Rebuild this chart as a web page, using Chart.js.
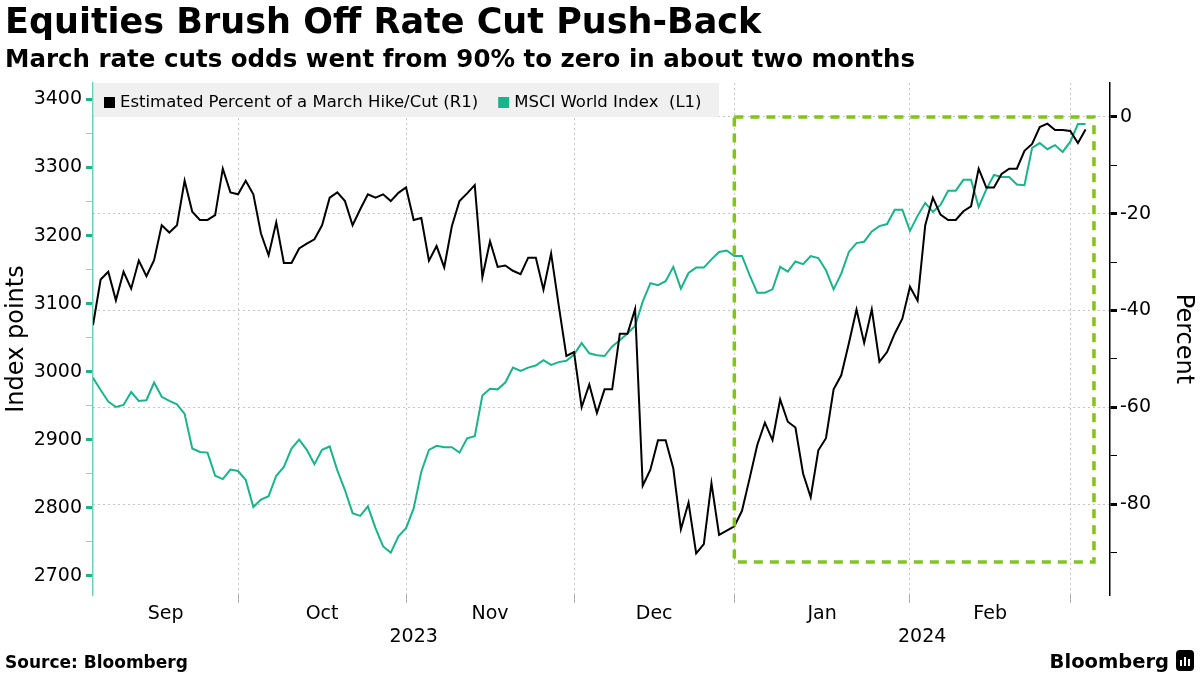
<!DOCTYPE html>
<html>
<head>
<meta charset="utf-8">
<script src="https://cdn.jsdelivr.net/npm/chart.js@4.4.1/dist/chart.umd.min.js"></script>
<style>
body{margin:0;background:#fff;font-family:"DejaVu Sans",sans-serif;}
#wrap{position:relative;width:1200px;height:675px;overflow:hidden;}
#chart{position:absolute;left:0;top:0;}
.title{position:absolute;left:5px;top:4px;font-weight:bold;font-size:35px;line-height:35px;white-space:nowrap;}
.subtitle{position:absolute;left:5px;top:47px;font-weight:bold;font-size:24.5px;line-height:24.5px;white-space:nowrap;}
.source{position:absolute;left:5px;top:654px;font-weight:bold;font-size:17px;line-height:17px;}
.brand{position:absolute;right:31px;top:652px;font-weight:bold;font-size:19.5px;line-height:19.5px;}
.logo{position:absolute;left:1176px;top:650px;width:18px;height:21px;background:#000;border-radius:4px;}
.logo i{position:absolute;bottom:5px;width:2px;background:#fff;}
</style>
</head>
<body>
<div id="wrap">
<canvas id="chart" width="1200" height="675"></canvas>
<div class="title">Equities Brush Off Rate Cut Push-Back</div>
<div class="subtitle">March rate cuts odds went from 90% to zero in about two months</div>
<div class="source">Source: Bloomberg</div>
<div class="brand">Bloomberg</div>
<div class="logo"><i style="left:4px;height:6px"></i><i style="left:8px;height:9px"></i><i style="left:12px;height:7px"></i></div>
</div>
<script>

// one value per trading day, starting Tue 5 Sep 2023
const marchOdds = [
    -43.0,-33.6,-32.0,-37.9,-32.0,-35.5,-29.7,-32.9,-29.6,-22.4,
    -23.9,-22.4,-13.2,-19.6,-21.3,-21.3,-20.3,-10.7,-15.6,-16.0,
    -13.2,-16.0,-24.1,-28.6,-21.8,-30.2,-30.2,-27.2,-26.2,-25.3,
    -22.4,-16.7,-15.6,-17.4,-22.4,-19.1,-16.0,-16.7,-16.0,-17.4,
    -15.7,-14.6,-21.3,-20.9,-29.7,-26.7,-31.1,-22.6,-17.4,-15.8,
    -14.1,-33.1,-25.7,-31.0,-30.7,-31.8,-32.5,-29.1,-29.1,-35.7,
    -28.2,-39.0,-49.4,-48.6,-60.0,-55.3,-61.2,-56.3,-56.3,-44.8,
    -44.8,-39.7,-76.2,-72.9,-66.8,-66.8,-72.6,-85.2,-79.7,-90.2,
    -88.3,-75.7,-86.4,-85.5,-84.6,-81.4,-74.7,-67.8,-63.2,-66.8,
    -58.4,-63.0,-64.2,-73.7,-78.6,-68.9,-66.4,-56.3,-53.4,-46.8,
    -39.8,-46.7,-39.8,-50.6,-48.6,-44.8,-41.7,-35.1,-38.0,-22.4,
    -16.7,-20.2,-21.3,-21.3,-19.5,-18.5,-10.7,-14.6,-14.6,-11.8,
    -10.7,-10.7,-7.0,-5.6,-2.1,-1.4,-2.7,-2.7,-2.9,-5.4,
    -2.6
];

const msciWorld = [
    2991,2973,2956,2948,2951,2970,2957,2958,2984,2963,
    2957,2952,2938,2887,2882,2881,2847,2842,2856,2854,
    2841,2801,2812,2817,2847,2860,2887,2900,2885,2864,
    2885,2890,2855,2826,2792,2788,2802,2770,2743,2734,
    2758,2770,2799,2853,2885,2891,2889,2889,2881,2902,
    2905,2965,2975,2974,2984,3006,3001,3006,3009,3017,
    3010,3014,3016,3025,3042,3027,3024,3023,3037,3046,
    3056,3067,3103,3130,3127,3133,3154,3122,3145,3153,
    3153,3165,3176,3178,3170,3170,3142,3116,3116,3121,
    3154,3147,3162,3158,3170,3167,3149,3121,3144,3176,
    3189,3191,3206,3214,3217,3238,3238,3207,3229,3248,
    3235,3245,3266,3266,3282,3282,3242,3268,3289,3286,
    3286,3275,3274,3329,3336,3327,3333,3323,3338,3364,
    3364
];

const monthNames = ["Sep","Oct","Nov","Dec","Jan","Feb"];
// trading-day index of the first day of Oct, Nov, Dec, Jan, Feb, Mar
const monthStarts = [19,41,63,84,107,128];
const axisEnd = 133.2;
const years = ["2023","2024"];
const yearStarts = [0,84];

const leftTicks = [2700,2750,2800,2850,2900,2950,3000,3050,3100,3150,3200,3250,3300,3350,3400];
const rightTicks = [0,-10,-20,-30,-40,-50,-60,-70,-80,-90];

// dashed highlight, in x index / right axis units
const highlight = {from:84, to:131.1, top:0, bottom:-92};

const FONT = "DejaVu Sans";
const GREEN = "#1bb38b";

const edges = [0, ...monthStarts, axisEnd];
const xTicks = [];
monthStarts.forEach(v=>xTicks.push({value:v, text:""}));
monthNames.forEach((m,i)=>xTicks.push({value:(edges[i]+edges[i+1])/2, text:m}));
years.forEach((y,i)=>{
    const end = i+1 < yearStarts.length ? yearStarts[i+1] : axisEnd;
    xTicks.push({value:(yearStarts[i]+end)/2, text:["",y]});
});

const isBoundary = c => c.tick && monthStarts.includes(c.tick.value);

const legendBox = {
    id:"legendBox",
    beforeDatasetsDraw(chart){
        const {ctx, chartArea} = chart;
        ctx.save();
        ctx.fillStyle = "#f0f0f0";
        ctx.fillRect(chartArea.left+1, chartArea.top, 625, 34);
        ctx.font = "16.5px '"+FONT+"'";
        ctx.textBaseline = "middle";
        let x = chartArea.left + 11;
        const y = chartArea.top + 19.5;
        chart.data.datasets.forEach(ds=>{
            ctx.fillStyle = ds.borderColor;
            ctx.fillRect(x, y-5.5, 11, 11);
            ctx.fillStyle = "#000";
            ctx.fillText(ds.label, x+16, y);
            x += 16 + ctx.measureText(ds.label).width + 20;
        });
        ctx.restore();
    }
};

const highlightBox = {
    id:"highlightBox",
    afterDatasetsDraw(chart){
        const {ctx, scales} = chart;
        const x1 = scales.x.getPixelForValue(highlight.from);
        const x2 = scales.x.getPixelForValue(highlight.to);
        const y1 = scales.yR.getPixelForValue(highlight.top);
        const y2 = scales.yR.getPixelForValue(highlight.bottom);
        ctx.save();
        ctx.strokeStyle = "#80c41c";
        ctx.lineWidth = 3.5;
        ctx.setLineDash([9,7]);
        ctx.strokeRect(x1, y1, x2-x1, y2-y1);
        ctx.restore();
    }
};

const chart = new Chart(document.getElementById("chart").getContext("2d"),{

    type:"line",

    data:{
        datasets:[
            {
                label:"Estimated Percent of a March Hike/Cut (R1)",
                data:marchOdds.map((v,i)=>({x:i,y:v})),
                yAxisID:"yR",
                borderColor:"#000000",
                borderWidth:2,
                pointRadius:0,
                tension:0
            },
            {
                label:"MSCI World Index  (L1)",
                data:msciWorld.map((v,i)=>({x:i,y:v})),
                yAxisID:"yL",
                borderColor:GREEN,
                borderWidth:2,
                pointRadius:0,
                tension:0
            }
        ]
    },

    options:{
        responsive:false,
        animation:false,
        devicePixelRatio:1,
        layout:{padding:{top:83,left:0,right:0,bottom:0}},
        plugins:{
            legend:{display:false},
            tooltip:{enabled:false}
        },
        scales:{
            x:{
                type:"linear",
                min:0,
                max:axisEnd,
                afterFit:s=>{ s.height = 80; },
                afterBuildTicks:s=>{ s.ticks = xTicks.map(t=>({value:t.value, text:t.text})); },
                border:{display:false, dash:[2,3]},
                grid:{
                    color:c=>isBoundary(c) ? "#c4c4c4" : "rgba(0,0,0,0)",
                    tickColor:c=>isBoundary(c) ? "#b0b0b0" : "rgba(0,0,0,0)",
                    tickLength:8,
                    lineWidth:1
                },
                ticks:{
                    autoSkip:false,
                    maxRotation:0,
                    minRotation:0,
                    padding:0,
                    color:"#000",
                    font:{family:FONT, size:19, lineHeight:1.2},
                    callback:(v,i,ticks)=>ticks[i].text
                }
            },
            yL:{
                position:"left",
                min:2671.7,
                max:3424.3,
                afterFit:s=>{ s.width = 93; },
                afterBuildTicks:s=>{ s.ticks = leftTicks.map(v=>({value:v})); },
                border:{display:true, color:"#6fd0b8", width:1.5},
                grid:{
                    drawOnChartArea:false,
                    tickLength:7,
                    tickColor:c=>c.tick && c.tick.value % 100 === 0 ? GREEN : "#bbbbbb",
                    tickWidth:c=>c.tick && c.tick.value % 100 === 0 ? 3 : 1
                },
                ticks:{
                    padding:4,
                    color:"#000",
                    font:{family:FONT, size:19},
                    callback:v=>v % 100 === 0 ? String(v) : ""
                },
                title:{
                    display:true,
                    text:"Index points",
                    color:"#000",
                    font:{family:FONT, size:24},
                    padding:{top:2, bottom:0}
                }
            },
            yR:{
                position:"right",
                min:-98.8,
                max:7.0,
                afterFit:s=>{ s.width = 90; },
                afterBuildTicks:s=>{ s.ticks = rightTicks.map(v=>({value:v})); },
                border:{display:true, color:"#000", width:1.5, dash:[2,3]},
                grid:{
                    color:c=>c.tick && c.tick.value % 20 === 0 ? "#c4c4c4" : "rgba(0,0,0,0)",
                    lineWidth:1,
                    tickLength:7,
                    tickColor:"#000",
                    tickWidth:c=>c.tick && c.tick.value % 20 === 0 ? 3 : 1
                },
                ticks:{
                    padding:3,
                    color:"#000",
                    font:{family:FONT, size:19},
                    callback:v=>v % 20 === 0 ? String(v) : ""
                },
                title:{
                    display:true,
                    text:"Percent",
                    color:"#000",
                    font:{family:FONT, size:24},
                    padding:{top:2, bottom:0}
                }
            }
        }
    },

    plugins:[legendBox, highlightBox]

});

</script>
</body>
</html>
